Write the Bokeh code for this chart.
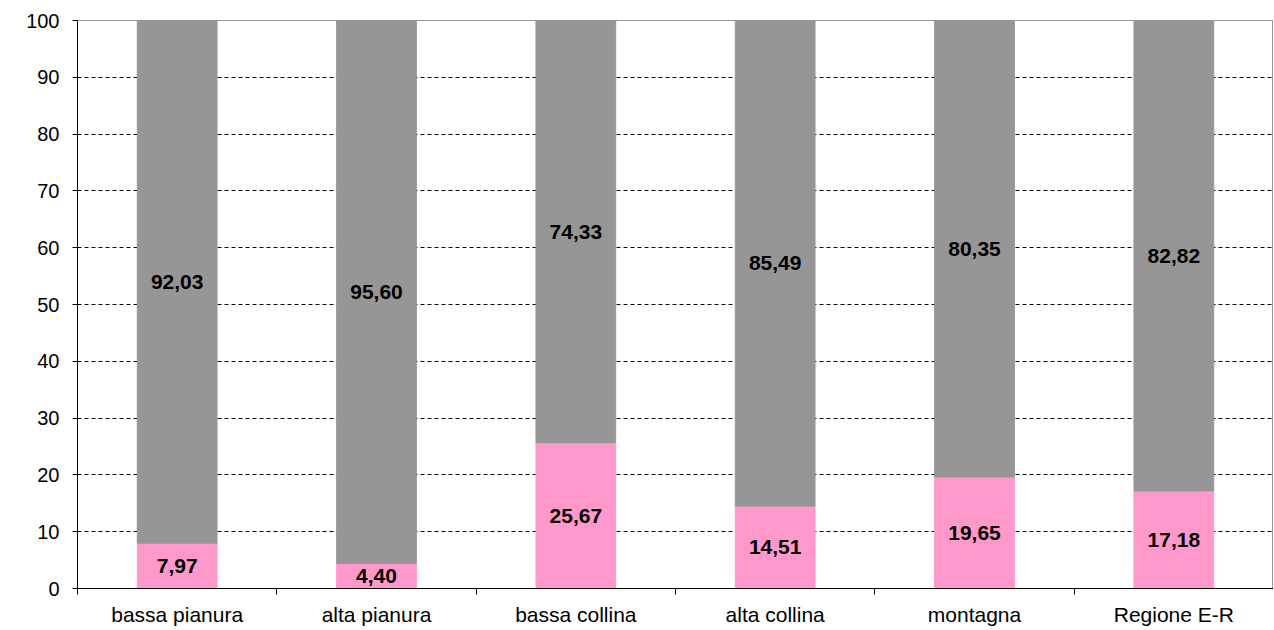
from bokeh.plotting import figure
from bokeh.models import ColumnDataSource, FixedTicker, Range1d
from bokeh.core.properties import value
from bokeh.embed import file_html
from bokeh.resources import INLINE

categories = ["bassa pianura", "alta pianura", "bassa collina", "alta collina", "montagna", "Regione E-R"]
pink_values = [7.97, 4.40, 25.67, 14.51, 19.65, 17.18]
gray_values = [92.03, 95.60, 74.33, 85.49, 80.35, 82.82]
y_ticks = [0, 10, 20, 30, 40, 50, 60, 70, 80, 90, 100]

n = len(categories)
xs = [i + 0.5 for i in range(n)]
fmt = lambda v: f"{v:.2f}".replace(".", ",")

src = ColumnDataSource(dict(
    x=xs,
    pink=pink_values,
    gray=gray_values,
    top=[a + b for a, b in zip(pink_values, gray_values)],
    pink_mid=[a / 2 for a in pink_values],
    gray_mid=[a + b / 2 for a, b in zip(pink_values, gray_values)],
    pink_lbl=[fmt(v) for v in pink_values],
    gray_lbl=[fmt(v) for v in gray_values],
))

p = figure(width=1273, height=628, output_backend="svg", toolbar_location=None,
           x_range=Range1d(0, n), y_range=Range1d(0, 100),
           min_border_left=77, min_border_right=0, min_border_top=20, min_border_bottom=40)

p.vbar(x="x", width=0.4, bottom=0, top="pink", source=src, fill_color="#FF99CC", line_color="#FF99CC")
p.vbar(x="x", width=0.4, bottom="pink", top="top", source=src, fill_color="#969696", line_color="#969696")

FONT = "Liberation Sans"
p.text(x="x", y="pink_mid", text="pink_lbl", source=src, text_align="center", text_baseline="middle",
       text_font=value(FONT), text_font_size="21px", text_font_style="bold", text_color="black")
p.text(x="x", y="gray_mid", text="gray_lbl", source=src, text_align="center", text_baseline="middle",
       text_font=value(FONT), text_font_size="21px", text_font_style="bold", text_color="black")

# Y axis
p.yaxis.ticker = FixedTicker(ticks=y_ticks)
p.yaxis.axis_line_color = "black"
p.yaxis.major_tick_line_color = "black"
p.yaxis.major_tick_out = 5
p.yaxis.major_tick_in = 0
p.yaxis.minor_tick_line_color = None
p.yaxis.major_label_text_font = FONT
p.yaxis.major_label_text_font_size = "20px"
p.yaxis.major_label_text_color = "black"
p.yaxis.major_label_standoff = 13

# X axis: labels at centers, tick marks at boundaries
p.xaxis.ticker = FixedTicker(ticks=xs, minor_ticks=list(range(n + 1)))
p.xaxis.major_label_overrides = {x: c for x, c in zip(xs, categories)}
p.xaxis.major_tick_line_color = None
p.xaxis.minor_tick_line_color = "black"
p.xaxis.minor_tick_out = 6
p.xaxis.minor_tick_in = 0
p.xaxis.axis_line_color = "black"
p.xaxis.major_label_text_font = FONT
p.xaxis.major_label_text_font_size = "21px"
p.xaxis.major_label_text_color = "black"
p.xaxis.major_label_standoff = 8

p.xgrid.grid_line_color = None
p.ygrid.ticker = FixedTicker(ticks=y_ticks)
p.ygrid.grid_line_color = "black"
p.ygrid.grid_line_dash = "4 3"
p.ygrid.grid_line_width = 1

p.outline_line_color = "#999999"
p.background_fill_color = "white"
p.border_fill_color = "white"

open("out.html", "w").write(file_html(p, INLINE))
